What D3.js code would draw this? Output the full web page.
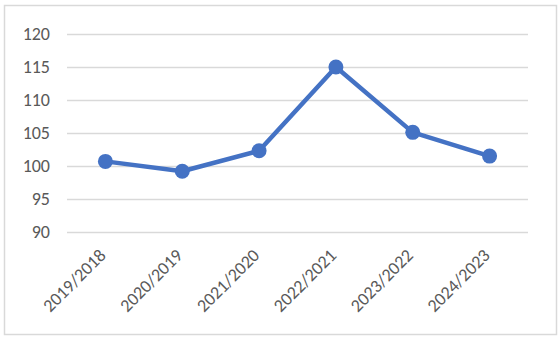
<!DOCTYPE html>
<html>
<head>
<meta charset="UTF-8" />
<script src="https://d3js.org/d3.v7.min.js"></script>
<style>
  body { margin: 0; background: #fff; }
  text { font-family: Carlito, Calibri, "Open Sans", sans-serif; fill: #595959; }
</style>
</head>
<body>
<svg id="chart" width="560" height="340"></svg>
<script>
var categories = ["2019/2018", "2020/2019", "2021/2020", "2022/2021", "2023/2022", "2024/2023"];
var values = [100.7, 99.2, 102.3, 115.0, 105.1, 101.5];
var yTicks = [90, 95, 100, 105, 110, 115, 120];

var svg = d3.select("#chart"),
  width = +svg.attr("width"),
  height = +svg.attr("height");

// outer frame
svg.append("rect")
  .attr("x", 4.5).attr("y", 5.5)
  .attr("width", 552).attr("height", 329)
  .attr("fill", "#fff")
  .attr("stroke", "#d9d9d9")
  .attr("stroke-width", 1.5);

var x = d3.scalePoint()
  .domain(categories)
  .range([67, 528])
  .padding(0.5);

var y = d3.scaleLinear()
  .domain([90, 120])
  .range([232, 34]);

// gridlines
svg.append("g")
  .selectAll("line")
  .data(yTicks)
  .enter().append("line")
  .attr("x1", 67).attr("x2", 528)
  .attr("y1", d => Math.round(y(d)) + 0.5)
  .attr("y2", d => Math.round(y(d)) + 0.5)
  .attr("stroke", "#d9d9d9")
  .attr("stroke-width", 1.5);

// y labels
svg.append("g")
  .selectAll("text")
  .data(yTicks)
  .enter().append("text")
  .attr("x", 50)
  .attr("y", d => y(d))
  .attr("dy", "0.35em")
  .attr("text-anchor", "end")
  .style("font-size", "18px")
  .text(d => d);

// x labels
svg.append("g")
  .selectAll("text")
  .data(categories)
  .enter().append("text")
  .attr("transform", d => "translate(" + (x(d) - 3) + ",252) rotate(-45)")
  .attr("text-anchor", "end")
  .attr("dy", "0.35em")
  .style("font-size", "18px")
  .text(d => d);

var line = d3.line()
  .x((d, i) => x(categories[i]))
  .y(d => y(d));

svg.append("path")
  .datum(values)
  .attr("fill", "none")
  .attr("stroke", "#4472c4")
  .attr("stroke-width", 4.5)
  .attr("stroke-linejoin", "round")
  .attr("d", line);

svg.append("g")
  .selectAll("circle")
  .data(values)
  .enter().append("circle")
  .attr("cx", (d, i) => x(categories[i]))
  .attr("cy", d => y(d))
  .attr("r", 7.5)
  .attr("fill", "#4472c4");
</script>
</body>
</html>
